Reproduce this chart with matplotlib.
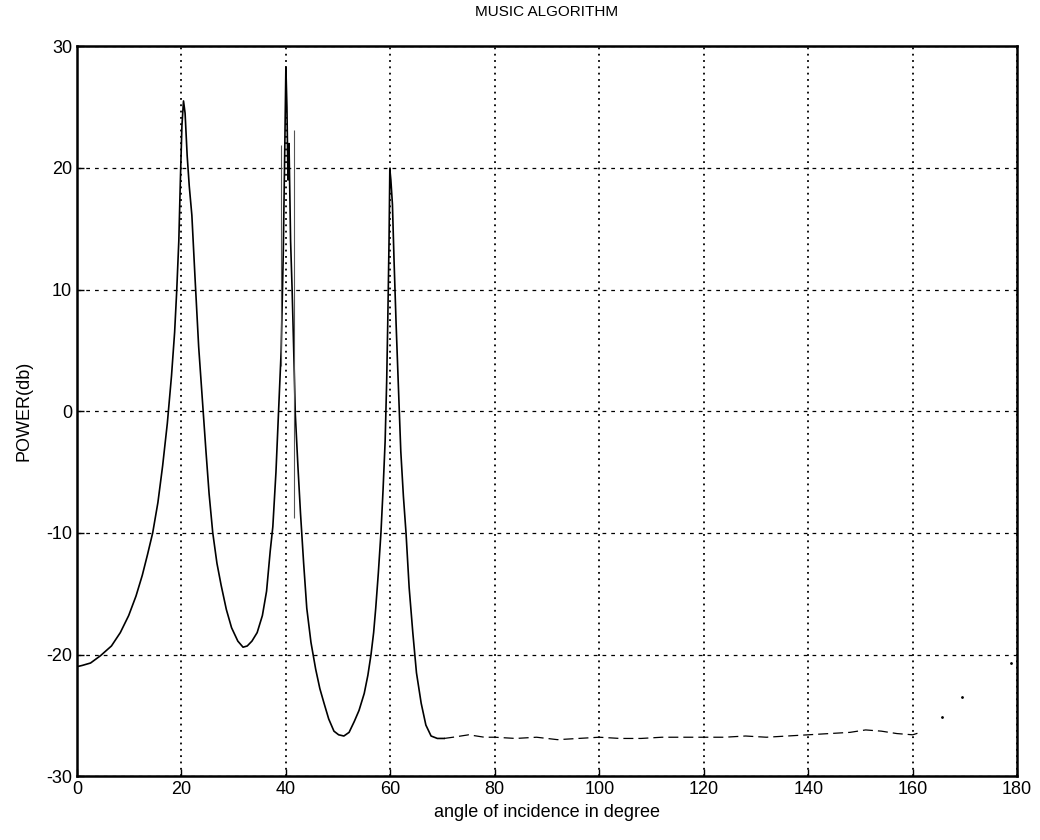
import numpy as np
import matplotlib
matplotlib.use("Agg")
import matplotlib.pyplot as plt

# spectrum (angle in degrees, power in dB)
angle = [0, 1, 2.6, 4.5, 6.6, 8.3, 9.9, 11.3, 12.5, 13.5, 14.5, 15.5, 16.4, 17.3,
         18.1, 18.7, 19.1, 19.5, 19.8, 20.1, 20.4, 20.7, 21.1, 21.5, 22.0, 22.6,
         23.3, 24.0, 24.7, 25.3, 26.0, 26.8, 27.6, 28.6, 29.6, 30.8, 31.8, 32.6,
         33.5, 34.5, 35.5, 36.3, 37.0, 37.5, 38.1, 38.6, 39.1, 39.5, 39.8, 40.0,
         40.2, 40.4, 40.6, 40.9, 41.2, 41.5, 41.8, 42.3, 42.8, 43.4, 44.0, 44.8,
         45.7, 46.5, 47.3, 48.2, 49.2, 50.1, 51.1, 52.1, 53.1, 54.0, 55.0, 55.7,
         56.3, 56.8, 57.2, 57.7, 58.2, 58.6, 59.0, 59.3, 59.5, 59.75, 59.9, 60.1,
         60.4, 60.7, 61.1, 61.5, 62.0, 62.5, 63.0, 63.6, 64.3, 65.0, 65.9, 66.8,
         67.8, 69.0, 70.3]
power = [-21.0, -20.9, -20.7, -20.1, -19.3, -18.2, -16.8, -15.2, -13.5, -11.8,
         -10.0, -7.5, -4.5, -1.0, 2.9, 6.5, 9.9, 14.0, 19.0, 23.5, 25.5, 24.5,
         21.0, 18.5, 16.1, 11.0, 5.3, 1.0, -3.3, -6.8, -10.0, -12.5, -14.3, -16.3,
         -17.8, -18.9, -19.4, -19.3, -18.9, -18.2, -16.8, -14.8, -11.5, -9.5,
         -5.0, 0.0, 5.0, 13.0, 22.0, 28.3, 25.0, 19.0, 22.0, 14.0, 9.9, 5.0, -0.2,
         -4.5, -8.4, -12.5, -16.2, -19.0, -21.2, -22.8, -24.0, -25.3, -26.3,
         -26.6, -26.7, -26.4, -25.5, -24.6, -23.2, -21.7, -20.0, -18.2, -16.2,
         -13.3, -10.0, -6.5, -2.5, 2.5, 7.2, 14.0, 19.9, 19.0, 17.0, 12.5, 7.2,
         2.5, -3.3, -7.0, -10.0, -14.5, -18.2, -21.5, -24.0, -25.8, -26.7, -26.9,
         -26.9]

# flat floor after the third peak
tail_angle = [70.3, 72, 75, 78, 80, 84, 88, 92, 96, 100, 104, 108, 112, 116, 120,
              124, 128, 132, 136, 140, 144, 148, 151, 154, 157, 160, 161.5]
tail_power = [-26.9, -26.8, -26.6, -26.8, -26.8, -26.9, -26.8, -27.0, -26.9, -26.8,
              -26.9, -26.9, -26.8, -26.8, -26.8, -26.8, -26.7, -26.8, -26.7, -26.6,
              -26.5, -26.4, -26.2, -26.3, -26.5, -26.6, -26.4]

# faint points near the right edge
end_angle = [165.7, 169.5, 178.8]
end_power = [-25.1, -23.5, -20.7]

# thin spikes beside the 40 degree peak
spike_angle = [39.1, 41.6]
spike_lo = [3.7, -8.8]
spike_hi = [21.9, 23.1]

plt.rcParams['font.family'] = ['Liberation Sans', 'DejaVu Sans']
plt.rcParams['axes.unicode_minus'] = False

fig = plt.figure(figsize=(10.4, 8.4), dpi=100)
ax = fig.add_axes([0.074, 0.076, 0.904, 0.869])

ax.plot(angle, power, color='black', lw=1.2)
ax.plot(tail_angle, tail_power, color='black', lw=0.9, ls=(0, (8, 4)))
ax.plot(end_angle, end_power, ls='none', marker='.', ms=2, color='black')
ax.vlines(spike_angle, spike_lo, spike_hi, color='#555555', lw=0.8)

ax.set_xlim(0, 180)
ax.set_ylim(-30, 30)
ax.set_xticks(np.arange(0, 181, 20))
ax.set_yticks(np.arange(-30, 31, 10))

ax.xaxis.grid(True, color='black', ls=(0, (1, 2.5)), lw=1.3)
ax.yaxis.grid(True, color='black', ls=(0, (3, 4)), lw=0.9)

for s in ax.spines.values():
    s.set_linewidth(1.8)
    s.set_color('black')

ax.tick_params(direction='in', length=5, width=1, labelsize=13, colors='black')

ax.set_title('MUSIC ALGORITHM', fontsize=11, pad=22)
ax.set_xlabel('angle of incidence in degree', fontsize=13, labelpad=4)
ax.set_ylabel('POWER(db)', fontsize=13, labelpad=10)

fig.savefig('out.png', dpi=100)
